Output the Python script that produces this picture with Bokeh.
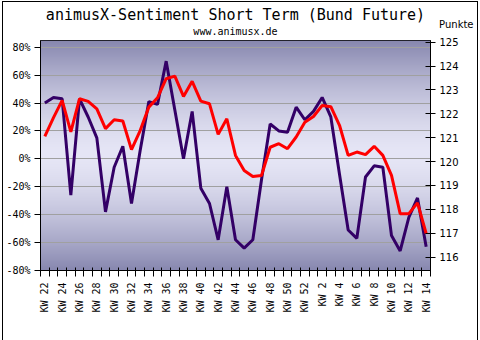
import numpy as np
from bokeh.plotting import figure
from bokeh.layouts import column
from bokeh.models import (Range1d, LinearAxis, FixedTicker, PrintfTickFormatter,
                          Legend, LegendItem, Title)
from bokeh.embed import file_html
from bokeh.resources import INLINE

# ---- data ----
weeks = [22, 23, 24, 25, 26, 27, 28, 29, 30, 31, 32, 33, 34, 35, 36, 37, 38, 39, 40,
         41, 42, 43, 44, 45, 46, 47, 48, 49, 50, 51, 52, 1, 2, 3, 4, 5, 6, 7, 8, 9,
         10, 11, 12, 13, 14]
sentiment = [40, 44, 43, -26, 43, 30, 15, -38, -6, 9, -32, 6, 41, 39, 70, 35, 0, 34,
             -21, -32, -58, -20, -58, -64, -58, -15, 25, 20, 19, 37, 28, 34, 44, 30,
             -11, -51, -57, -13, -5, -6, -55, -66, -42, -28, -63]
bund = [121.06, 121.84, 122.56, 121.24, 122.63, 122.52, 122.21, 121.38, 121.75,
        121.70, 120.50, 121.30, 122.28, 122.67, 123.47, 123.58, 122.73, 123.36,
        122.53, 122.42, 121.14, 121.79, 120.26, 119.63, 119.38, 119.42, 120.60,
        120.75, 120.54, 121.03, 121.65, 121.89, 122.35, 122.30, 121.52, 120.26,
        120.40, 120.29, 120.64, 120.26, 119.42, 117.82, 117.82, 118.27, 116.99]
left_ticks = [-80, -60, -40, -20, 0, 20, 40, 60, 80]
right_ticks = [116, 117, 118, 119, 120, 121, 122, 123, 124, 125]

title_text = "animusX-Sentiment Short Term (Bund Future)"
subtitle_text = "www.animusx.de"
right_title = "Punkte"

idx = list(range(len(weeks)))
labels = ["KW %d" % w for w in weeks]

p = figure(frame_width=390, frame_height=230, output_backend="svg", toolbar_location=None,
           x_range=Range1d(-0.5, len(weeks) - 0.5), y_range=Range1d(-80, 84.8),
           min_border_left=37, min_border_right=47, min_border_top=38,
           min_border_bottom=67)
p.extra_y_ranges = {"bund": Range1d(115.44, 125.07)}
p.background_fill_color = "white"
p.border_fill_color = "white"
p.outline_line_color = "black"
p.outline_line_width = 1

# background gradient
n = 230
t = np.abs(np.linspace(-1, 1, n)) ** 1.5
light = np.array([0xe6, 0xe6, 0xf6])
dark = np.array([0x88, 0x88, 0xb0])
cols = light[None, :] + (dark - light)[None, :] * t[:, None]
img = np.zeros((n, 1), dtype=np.uint32)
view = img.view(dtype=np.uint8).reshape((n, 1, 4))
view[:, 0, 0] = cols[:, 0].astype(np.uint8)
view[:, 0, 1] = cols[:, 1].astype(np.uint8)
view[:, 0, 2] = cols[:, 2].astype(np.uint8)
view[:, 0, 3] = 255
r_img = p.image_rgba(image=[img], x=-0.5, y=-80, dw=len(weeks), dh=164.8)
r_img.level = "image"

# grid
p.xgrid.visible = False
p.ygrid.ticker = FixedTicker(ticks=left_ticks)
p.ygrid.grid_line_color = "#a0a0a0"
p.ygrid.grid_line_width = 1

# x axis
xa = p.xaxis[0]
xa.axis_label = None
xa.ticker = FixedTicker(ticks=idx[::2], minor_ticks=[i - 0.5 for i in range(len(weeks) + 1)])
xa.major_label_overrides = {i: labels[i] for i in idx[::2]}
xa.major_label_orientation = np.pi / 2
xa.major_tick_in = 0
xa.major_tick_out = 0
xa.minor_tick_in = 3
xa.minor_tick_out = 6
xa.minor_tick_line_color = "black"
xa.axis_line_color = "black"
xa.major_label_standoff = 6
xa.major_label_text_font = "DejaVu Sans Mono"
xa.major_label_text_font_size = "10px"
xa.major_label_text_color = "black"

# left axis
ya = p.yaxis[0]
ya.axis_label = None
ya.ticker = FixedTicker(ticks=left_ticks)
ya.formatter = PrintfTickFormatter(format="%d%%")
ya.major_tick_in = 0
ya.major_tick_out = 6
ya.minor_tick_in = 0
ya.minor_tick_out = 0
ya.major_label_standoff = 4
ya.major_label_text_font = "DejaVu Sans Mono"
ya.major_label_text_font_size = "10px"
ya.major_label_text_color = "black"
ya.axis_line_color = "black"

# right axis
ra = LinearAxis(y_range_name="bund", ticker=FixedTicker(ticks=right_ticks), axis_label=None)
ra.major_tick_in = 5
ra.major_tick_out = 5
ra.minor_tick_in = 0
ra.minor_tick_out = 0
ra.major_label_standoff = 4
ra.major_label_text_font = "DejaVu Sans"
ra.major_label_text_font_size = "10px"
ra.major_label_text_color = "black"
ra.axis_line_color = "black"
p.add_layout(ra, "right")

# lines
r1 = p.line(idx, sentiment, line_color="#330066", line_width=3)
r2 = p.line(idx, bund, line_color="#ff0000", line_width=3, y_range_name="bund")

legend = Legend(items=[LegendItem(label="Sentiment", renderers=[r1]),
                       LegendItem(label="Bund-Future", renderers=[r2])],
                orientation="horizontal", location="center")
legend.border_line_color = "black"
legend.border_line_width = 1
legend.background_fill_color = "white"
legend.background_fill_alpha = 1
legend.label_text_font = "Liberation Sans"
legend.label_text_font_size = "12px"
legend.label_text_color = "black"
legend.glyph_width = 28
legend.glyph_height = 8
legend.label_height = 8
legend.label_standoff = 3
legend.spacing = 13
legend.padding = 2
legend.margin = 0
p.add_layout(legend, "below")

# titles (inner -> outer)
p.add_layout(Title(text=subtitle_text, align="center", vertical_align="top",
                   text_font="DejaVu Sans Mono", text_font_size="10px",
                   text_font_style="normal", text_color="black",
                   standoff=3, offset=0), "above")
p.add_layout(Title(text=right_title, align="right", vertical_align="bottom",
                   text_font="DejaVu Sans", text_font_size="10px",
                   text_font_style="normal", text_color="black",
                   standoff=-11.8, offset=-43), "above")
p.add_layout(Title(text=title_text, align="center", vertical_align="bottom",
                   text_font="DejaVu Sans Mono", text_font_size="15px",
                   text_font_style="normal", text_color="black",
                   standoff=-0.3, offset=0), "above")
p.add_layout(Title(text=" ", text_font_size="1px", standoff=-2.8), "above")

lay = column(p, styles={"border": "1px solid black", "margin-left": "2px",
                        "margin-top": "1px"})

open("out.html", "w").write(file_html(lay, INLINE))
